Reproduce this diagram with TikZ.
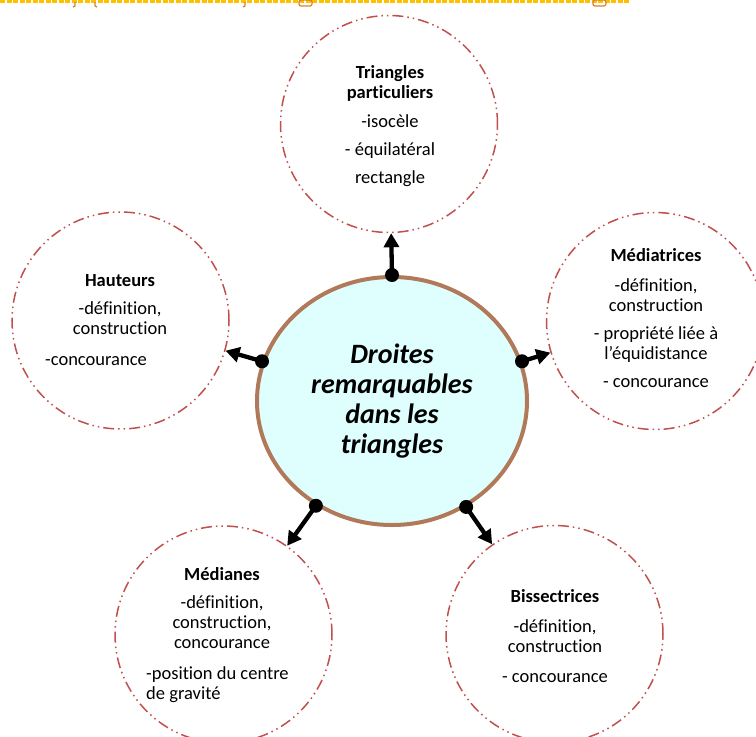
\documentclass[tikz,border=0pt]{standalone}
\usepackage{fontspec}
\setmainfont{Carlito}[Ligatures=NoCommon]
\usetikzlibrary{arrows.meta,shapes.geometric}

\definecolor{ringred}{HTML}{C0504D}
\definecolor{corebrown}{HTML}{B07A5A}
\definecolor{corefill}{HTML}{DFFFFF}
\definecolor{stripgold}{HTML}{FFC000}
\definecolor{stripdark}{HTML}{D9822B}

\begin{document}
\begin{tikzpicture}[x=1pt,y=-1pt,
    ring/.style={circle,draw=ringred,line width=1.5pt,
      dash pattern=on 11pt off 4pt on 1.5pt off 4pt on 1.5pt off 4pt,
      minimum size=217pt,inner sep=0pt},
    txt/.style={align=center,font=\fontsize{18.5}{20}\selectfont,inner sep=0pt},
    link/.style={line width=4.3pt,-{Triangle[length=14pt,width=15pt]}}]
    \useasboundingbox (0,0) rectangle (756,737);

    \draw[stripgold,line width=3pt,dash pattern=on 5pt off 1.5pt] (0,1.5) -- (630,1.5);
    \draw[stripdark,line width=1.2pt] (75,2) -- (75,6) -- (73,7);
    \draw[stripdark,line width=1.2pt] (95,2) -- (95,6) -- (97,7);
    \draw[stripdark,line width=1.2pt] (245,2) -- (245,6) -- (243,7);
    \draw[stripdark,line width=1.2pt,rounded corners=2pt] (299,0) rectangle (312,6);
    \draw[stripdark,line width=1.2pt,rounded corners=2pt] (593,0) rectangle (606,6);

    \node[ellipse,draw=corebrown,fill=corefill,line width=4pt,
      minimum width=270pt,minimum height=248pt,align=center,
      font=\fontsize{28}{30}\selectfont\bfseries\itshape] (core) at (392,401)
      {Droites\\remarquables\\dans les\\triangles};

    \node[ring] (tri) at (389,124) {};
    \node[ring] (haut) at (120.5,320.5) {};
    \node[ring] (medi) at (655,321) {};
    \node[ring] (mdn) at (223.5,634.5) {};
    \node[ring] (biss) at (554.5,634) {};

    \coordinate (dT) at (core.90);
    \coordinate (dR) at (core.17);
    \coordinate (dL) at (core.163);
    \coordinate (dBL) at (core.234);
    \coordinate (dBR) at (core.305);

    \draw[link] (dT) -- (tri);
    \draw[link] (dR) -- (medi);
    \draw[link] (dL) -- (haut);
    \draw[link] (dBL) -- (mdn);
    \draw[link] (dBR) -- (biss);
    \foreach \d in {dT,dR,dL,dBL,dBR}
      \fill (\d) circle (7pt);

    \node[txt,anchor=north] (triTxt) at (390,65)
      {\textbf{Triangles}\\\textbf{particuliers}\\[9pt]-isocèle\\[8pt]- équilatéral\\[8pt]rectangle};

    \node[txt,anchor=north] (hautTxt) at (120,274)
      {\textbf{Hauteurs}\\[8pt]-définition,\\construction};
    \node[txt,anchor=base] (hautConc) at (96,365) {-concourance};

    \node[txt,anchor=north] (mediTxt) at (656,248)
      {\textbf{Médiatrices}\\[10pt]-définition,\\construction\\[8pt]- propriété liée à\\l’équidistance\\[8pt]- concourance};

    \node[txt,anchor=north] (mdnTxt) at (222,567)
      {\textbf{Médianes}\\[8pt]-définition,\\construction,\\concourance};
    \node[txt,align=left,anchor=base west] (mdnPos) at (146,699)
      {-position du centre\\de gravité};

    \node[txt,anchor=north] (bissTxt) at (555,589)
      {\textbf{Bissectrices}\\[10pt]-définition,\\construction\\[10pt]- concourance};
\end{tikzpicture}
\end{document}
